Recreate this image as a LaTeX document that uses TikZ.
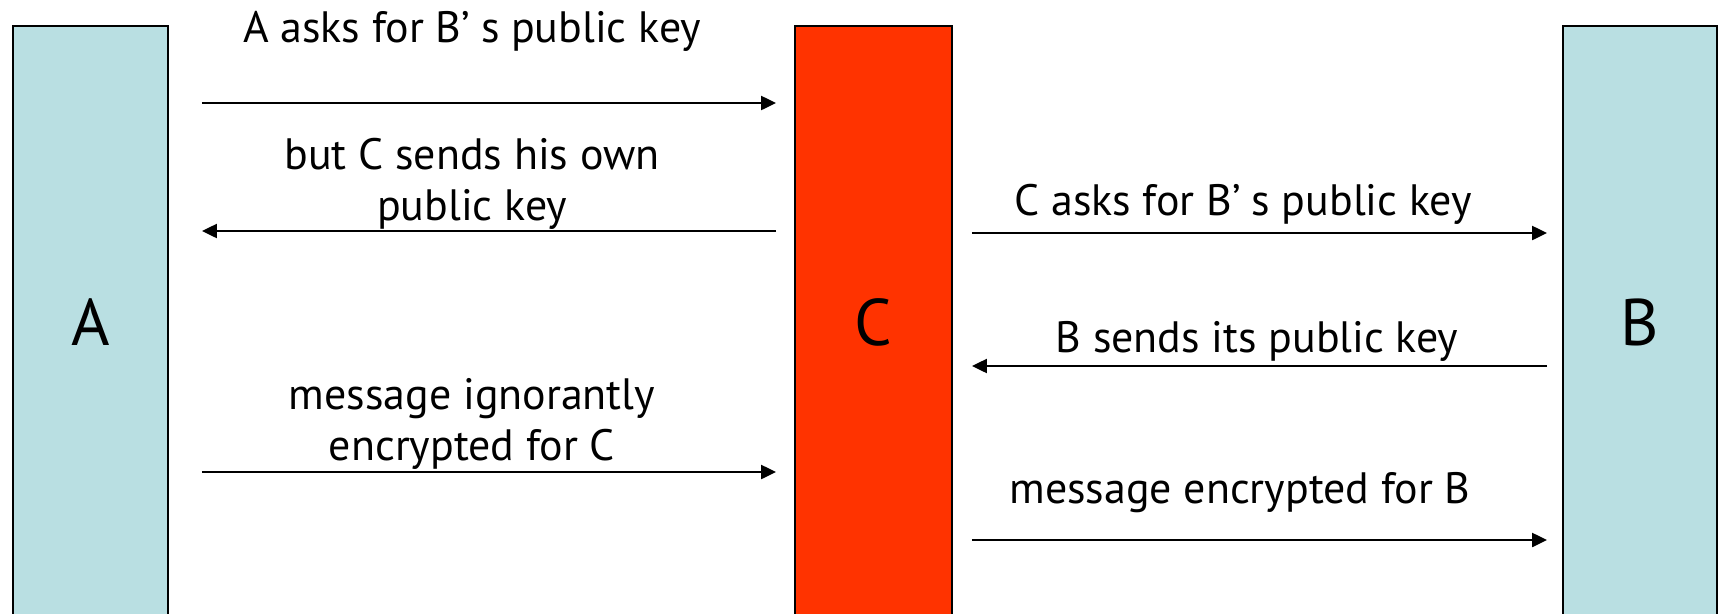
\documentclass[tikz,border=0pt]{standalone}
\usepackage{fontspec}
\setmainfont{PT Sans}
\usetikzlibrary{arrows.meta}
\definecolor{peer}{HTML}{B9DFE2}
\definecolor{spy}{HTML}{FF3300}
\tikzset{
  party/.style={draw=black, line width=1.1pt, minimum height=11.86cm, anchor=north,
    inner sep=0pt, font=\fontsize{37.5}{40}\selectfont},
  msg/.style={-{Triangle[length=0.3cm,width=0.28cm]}, line width=1.3pt},
  txt/.style={anchor=base, align=center, font=\fontsize{25}{29}\selectfont}
}
\begin{document}
\begin{tikzpicture}[x=0.02cm, y=-0.02cm]
    \useasboundingbox (0,0) rectangle (1721,613);

    \node[party, fill=peer, minimum width=3.1cm] (A) at (90.5,25) {A};
    \node[party, fill=spy, minimum width=3.14cm] (C) at (873.5,25) {C};
    \node[party, fill=peer, minimum width=3.08cm] (B) at (1640,25) {B};

    % A <-> C
    \draw[msg, shorten <=0.66cm, shorten >=0.36cm] (A.east |- 0,103) -- (C.west |- 0,103);
    \draw[msg, shorten <=0.36cm, shorten >=0.66cm] (C.west |- 0,231) -- (A.east |- 0,231);
    \draw[msg, shorten <=0.66cm, shorten >=0.36cm] (A.east |- 0,472) -- (C.west |- 0,472);

    % C <-> B
    \draw[msg, shorten <=0.38cm, shorten >=0.3cm] (C.east |- 0,233) -- (B.west |- 0,233);
    \draw[msg, shorten <=0.3cm, shorten >=0.38cm] (B.west |- 0,366) -- (C.east |- 0,366);
    \draw[msg, shorten <=0.38cm, shorten >=0.3cm] (C.east |- 0,540) -- (B.west |- 0,540);

    % two-line texts sit on their last line
    \node[txt] (ask1) at (472,42) {A asks for B’\hspace{0.25em}s public key};
    \node[txt] (fake) at (472,220) {but C sends his own\\public key};
    \node[txt] (send1) at (472,460) {message ignorantly\\encrypted for C};
    \node[txt] (ask2) at (1243,215) {C asks for B’\hspace{0.25em}s public key};
    \node[txt] (real) at (1257,352) {B sends its public key};
    \node[txt] (send2) at (1240,503) {message encrypted for B};
\end{tikzpicture}
\end{document}
